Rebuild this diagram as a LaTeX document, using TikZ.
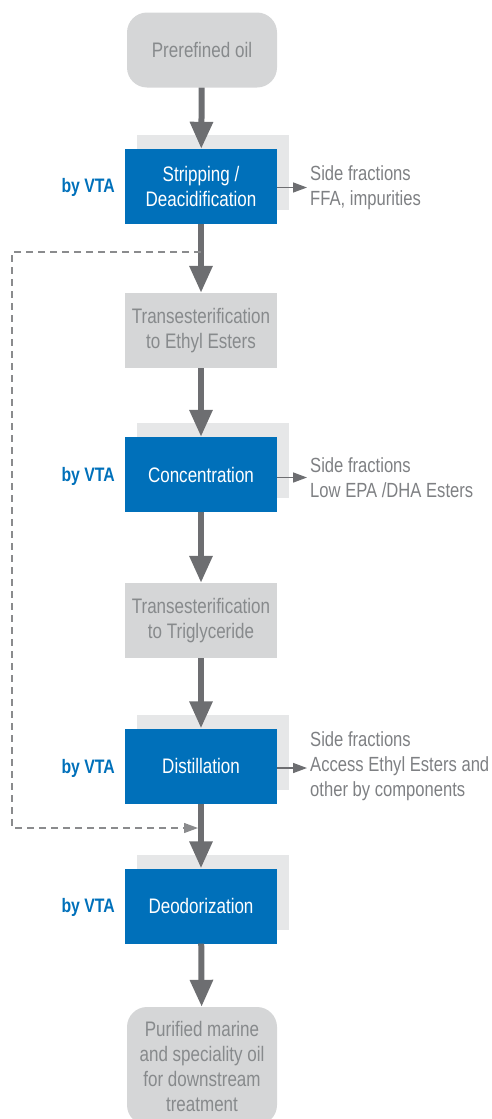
\documentclass[tikz,border=0pt]{standalone}
\usepackage{fontspec}
\setmainfont{Liberation Sans}[FakeStretch=0.81]
\usetikzlibrary{arrows.meta,shadows}
\definecolor{vtablue}{HTML}{0070BA}
\definecolor{flowgray}{HTML}{6D6E71}
\definecolor{boxgray}{HTML}{D5D6D7}
\definecolor{backgray}{HTML}{E6E7E8}
\definecolor{textgray}{HTML}{7E8083}
\definecolor{boxtext}{HTML}{878A8C}
\begin{document}
\begin{tikzpicture}[x=1pt,y=-1pt,
    stage/.style={fill=vtablue, text=white, minimum width=152pt, minimum height=75pt,
      align=center, inner sep=0pt, font=\fontsize{21}{25}\selectfont,
      drop shadow={shadow xshift=12pt, shadow yshift=14pt, fill=backgray, opacity=1}},
    greybox/.style={fill=boxgray, text=boxtext, minimum width=152pt, minimum height=75pt,
      align=center, inner sep=0pt, font=\fontsize{21}{25}\selectfont},
    endbox/.style={greybox, minimum width=150pt, rounded corners=20pt},
    sidenote/.style={anchor=west, align=left, text=textgray, inner sep=0pt,
      font=\fontsize{20.5}{25}\selectfont},
    vta/.style={anchor=east, text=vtablue, inner sep=0pt, font=\fontsize{19.5}{22}\bfseries},
    flow/.style={draw=flowgray, line width=6pt, -{Triangle[length=27pt,width=22pt]}},
    sidearrow/.style={draw=flowgray, line width=1.5pt, -{Triangle[length=14pt,width=10pt]}},
    bypass/.style={draw=flowgray!80, line width=1.2pt, dash pattern=on 7pt off 5pt,
      -{Triangle[length=14pt,width=10pt]}}]
    \useasboundingbox (0,0) rectangle (492,1119);

    \node[endbox] (oil) at (202,50) {Prerefined oil};
    \node[stage] (strip) at (201,186.5) {Stripping /\\Deacidification};
    \node[greybox] (ethyl) at (201,330.5) {Transesterification\\to Ethyl Esters};
    \node[stage] (conc) at (201,474.5) {Concentration};
    \node[greybox] (trig) at (201,620.5) {Transesterification\\to Triglyceride};
    \node[stage] (dist) at (201,766) {Distillation};
    \node[stage] (deo) at (201,906) {Deodorization};
    \node[endbox, minimum height=118pt] (pure) at (202,1066)
      {Purified marine\\and speciality oil\\for downstream\\treatment};

    \node[vta] (vta1) at (115,187) {by VTA};
    \node[vta] (vta2) at (115,476) {by VTA};
    \node[vta] (vta3) at (115,768) {by VTA};
    \node[vta] (vta4) at (115,907) {by VTA};

    \node[sidenote] (ffa) at (310,187.5) {Side fractions\\FFA, impurities};
    \node[sidenote] (low) at (310,477.5) {Side fractions\\Low EPA /DHA Esters};
    \node[sidenote] (acc) at (310,766) {Side fractions\\Access Ethyl Esters and\\other by components};

    \draw[flow] (oil) -- (strip);
    \draw[flow] (strip) -- (ethyl);
    \draw[flow] (ethyl) -- (conc);
    \draw[flow] (conc) -- (trig);
    \draw[flow] (trig) -- (dist);
    \draw[flow] (dist) -- (deo);
    \draw[flow] (deo) -- (pure);

    \draw[sidearrow] (strip.east |- ffa.west) -- ([xshift=-3pt]ffa.west);
    \draw[sidearrow] (conc.east |- low.west) -- ([xshift=-3pt]low.west);
    \draw[sidearrow] (dist.east |- vta3) -- ([xshift=-3pt]acc.west |- vta3);

    % bypass from stripping down to deodorization
    \coordinate (tap) at (201,252);
    \coordinate (turn1) at (12,252);
    \coordinate (turn2) at (12,828);
    \coordinate (join) at (198,828);
    \draw[bypass] (tap) -- (turn1) -- (turn2) -- (join);
\end{tikzpicture}
\end{document}
